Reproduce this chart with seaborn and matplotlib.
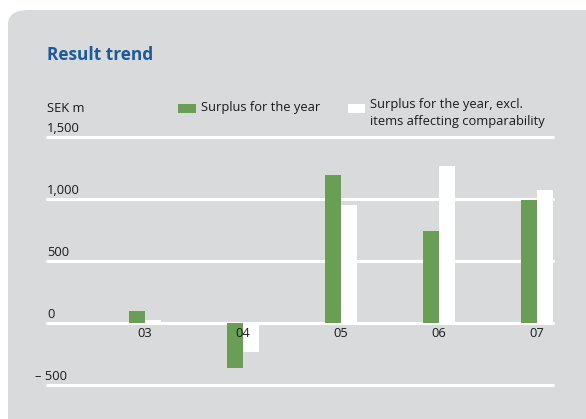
import matplotlib
matplotlib.use("Agg")
import matplotlib.pyplot as plt
import seaborn as sns
import pandas as pd
from matplotlib.patches import FancyBboxPatch, Rectangle
from matplotlib.transforms import blended_transform_factory, offset_copy

years = ["03", "04", "05", "06", "07"]
surplus = [100, -365, 1195, 740, 990]
surplus_excl = [25, -235, 950, 1265, 1070]
series_names = ["Surplus for the year",
                "Surplus for the year, excl.\nitems affecting comparability"]
ytick_values = [-500, 0, 500, 1000, 1500]
ytick_labels = ["\u2013 500", "0", "500", "1,000", "1,500"]

GREEN = "#6a9e55"
WHITE = "#ffffff"
PANEL = "#d9dadc"
BLUE = "#1b5a9c"
TXT = "#1a1a1a"
FS = 9.3

sns.set_theme(style="white")
plt.rcParams["font.family"] = ["Open Sans", "DejaVu Sans"]

W, H = 586, 419
fig = plt.figure(figsize=(W / 100, H / 100), dpi=100)
fig.patch.set_facecolor("white")

panel = FancyBboxPatch((8 / W, -20 / H), 700 / W, (409 + 20) / H,
                       boxstyle="round,pad=0,rounding_size=0.035",
                       transform=fig.transFigure, facecolor=PANEL,
                       edgecolor="none", zorder=-5)
fig.patches.append(panel)

left, right = 47 / W, 553 / W
bottom, top = 1 - 385 / H, 1 - 137 / H
ax = fig.add_axes([left, bottom, right - left, top - bottom])
ax.set_zorder(2)
ax.set_facecolor("none")

df = pd.DataFrame({
    "year": years * 2,
    "value": surplus + surplus_excl,
    "series": [series_names[0]] * len(years) + [series_names[1]] * len(years),
})

sns.barplot(data=df, x="year", y="value", hue="series", order=years,
            hue_order=series_names, palette=[GREEN, WHITE], width=0.33,
            gap=0, ax=ax, legend=False, zorder=2, edgecolor="none",
            linewidth=0, saturation=1)

ax.set_xlim(-1.0, 4.165)
ax.set_ylim(-500, 1500)
ax.set_xticks([])
ax.set_yticks([])
ax.set_xlabel("")
ax.set_ylabel("")
for s in ax.spines.values():
    s.set_visible(False)

for v in ytick_values:
    ax.axhline(v, color="white", lw=2.2, zorder=1, clip_on=False)

# y labels above the lines
tr = blended_transform_factory(ax.transAxes, ax.transData)
for v, lab in zip(ytick_values, ytick_labels):
    xoff = -12 / ((right - left) * W) if v < 0 else 0
    ax.text(xoff, v, lab, transform=offset_copy(tr, fig=fig, x=0, y=2, units="dots"),
            ha="left", va="bottom", fontsize=FS, color=TXT, zorder=5)

# category labels under zero line
for i, y in enumerate(years):
    ax.text(i, 0, y, transform=offset_copy(ax.transData, fig=fig, x=0, y=-4, units="dots"),
            ha="center", va="top", fontsize=FS, color=TXT, zorder=5)

# Title and unit
fig.text(47 / W, 1 - 55 / H, "Result trend", fontsize=12.4, fontweight="bold",
         color=BLUE, ha="left", va="center")
fig.text(47 / W, 1 - 108 / H, "SEK m", fontsize=FS, color=TXT,
         ha="left", va="center")

# Legend
fig.patches.append(Rectangle((178 / W, 1 - 113 / H), 18 / W, 9 / H,
                             transform=fig.transFigure, facecolor=GREEN,
                             edgecolor="none", zorder=3))
fig.text(201 / W, 1 - 108 / H, series_names[0], fontsize=FS, color=TXT,
         ha="left", va="center")
fig.patches.append(Rectangle((348 / W, 1 - 113 / H), 17 / W, 9 / H,
                             transform=fig.transFigure, facecolor=WHITE,
                             edgecolor="none", zorder=3))
fig.text(370 / W, 1 - 98 / H, series_names[1], fontsize=FS, color=TXT,
         ha="left", va="top", linespacing=1.45)

fig.savefig("out.png", dpi=100, facecolor=fig.get_facecolor())
